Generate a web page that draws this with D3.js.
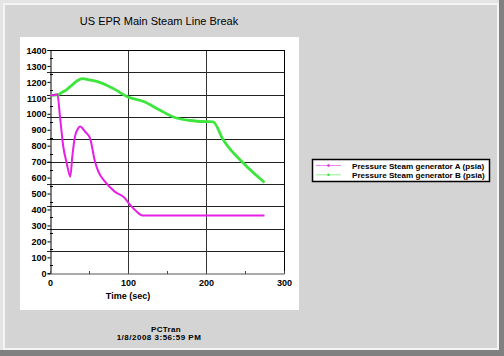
<!DOCTYPE html>
<html><head><meta charset="utf-8">
<script src="https://cdn.jsdelivr.net/npm/d3@7"></script>
<style>
html,body{margin:0;padding:0;background:#d4d4d4;overflow:hidden}
svg{display:block}
text{font-family:Arial,"Liberation Sans",sans-serif;fill:#000}
</style></head>
<body>
<svg id="c" width="504" height="356"></svg>
<script>
const title = "US EPR Main Steam Line Break";
const xLabel = "Time (sec)";
const footer = ["PCTran", "1/8/2008 3:56:59 PM"];
const seriesNames = ["Pressure Steam generator A (psia)", "Pressure Steam generator B (psia)"];
const seriesColors = ["#e61ee6", "#3ce63c"];

const timeA = [0, 5, 9.5, 12.8, 17, 21.4, 26, 28.6, 32, 36.3, 38.5, 44.9, 51.3, 57.7, 62, 70.5, 83, 96, 100, 109, 119, 275];
const pressA = [1115, 1118, 1122, 983, 795, 692, 606, 732, 857, 910, 920, 889, 847, 700, 638, 575, 512, 471, 445, 397, 362, 362];

const timeB = [0, 10, 15, 20, 25, 30, 35, 42, 50, 60, 80, 100, 120, 140, 160, 180, 200, 209, 222, 250, 275];
const pressB = [1115, 1118, 1134, 1146, 1167, 1188, 1207, 1220, 1213, 1203, 1161, 1105, 1077, 1025, 977, 958, 951, 950, 837, 680, 569];

const yTicks = [0,100,200,300,400,500,600,700,800,900,1000,1100,1200,1300,1400];
const yMinorTicks = [50,150,250,350,450,550,650,750,850,950,1050,1150,1250,1350];
const xTicks = [0,100,200,300];
const xMinorTicks = [50,150,250];
const hGrid = [140,280,420,560,700,840,980,1120,1260];
const vGrid = [100,200];

const svg = d3.select("#c");
const W = 504, H = 356;

// window frame
svg.append("rect").attr("x",0).attr("y",0).attr("width",W).attr("height",H).attr("fill","#808080");
svg.append("rect").attr("x",0).attr("y",0).attr("width",W-5).attr("height",H-6).attr("fill","#e4e4e4");
svg.append("rect").attr("x",3).attr("y",3).attr("width",W-8).attr("height",H-9).attr("fill","#f4f4f4");
svg.append("rect").attr("x",5).attr("y",5).attr("width",W-12).attr("height",H-13).attr("fill","#d4d4d4");

// white chart panel
svg.append("rect").attr("x",20).attr("y",37).attr("width",279).attr("height",273).attr("fill","#ffffff");

svg.append("text").attr("x",159).attr("y",25).attr("text-anchor","middle")
  .style("font-size","11px").text(title);

const x = d3.scaleLinear().domain([0,300]).range([50,284]);
const y = d3.scaleLinear().domain([0,1400]).range([273.3,50]);

// grid
svg.append("g").selectAll("line").data(hGrid).join("line")
  .attr("x1",47).attr("x2",x(300)).attr("y1",d=>Math.round(y(d))+0.5).attr("y2",d=>Math.round(y(d))+0.5)
  .attr("stroke","#222").attr("stroke-width",1);
svg.append("g").selectAll("line").data(vGrid).join("line")
  .attr("y1",y(1400)).attr("y2",y(0)).attr("x1",d=>Math.round(x(d))+0.5).attr("x2",d=>Math.round(x(d))+0.5)
  .attr("stroke","#333").attr("stroke-width",1);
// top and right border
svg.append("line").attr("x1",x(0)).attr("x2",x(300)+0.5).attr("y1",Math.round(y(1400))+0.5).attr("y2",Math.round(y(1400))+0.5).attr("stroke","#000");
svg.append("line").attr("x1",Math.round(x(300))+0.5).attr("x2",Math.round(x(300))+0.5).attr("y1",y(1400)).attr("y2",y(0)).attr("stroke","#000");

// y axis
const yAxis = d3.axisLeft(y).tickValues(yTicks).tickSize(3).tickPadding(1).tickFormat(d3.format("d"));
const gy = svg.append("g").attr("transform","translate(50.5,0)").call(yAxis);
gy.select(".domain").attr("stroke","#000");
gy.selectAll("text").style("font-size","9px").style("font-weight","bold").attr("dy","0.35em");
svg.append("g").selectAll("line").data(yMinorTicks).join("line")
  .attr("x1",50).attr("x2",53).attr("y1",d=>Math.round(y(d))+0.5).attr("y2",d=>Math.round(y(d))+0.5).attr("stroke","#000");

// x axis
const xAxis = d3.axisBottom(x).tickValues(xTicks).tickSize(0).tickPadding(6).tickFormat(d3.format("d"));
const gx = svg.append("g").attr("transform","translate(0,"+(Math.round(y(0))+0.5)+")").call(xAxis);
gx.select(".domain").attr("stroke","#555");
gx.selectAll("text").style("font-size","9px").style("font-weight","bold");
svg.append("g").selectAll("line").data(xMinorTicks.concat(xTicks)).join("line")
  .attr("y1",Math.round(y(0))-2).attr("y2",Math.round(y(0))+1).attr("x1",d=>Math.round(x(d))+0.5).attr("x2",d=>Math.round(x(d))+0.5).attr("stroke","#444");

svg.append("text").attr("x",x(100)).attr("y",299).attr("text-anchor","middle")
  .style("font-size","9px").style("font-weight","bold").text(xLabel);

// series
const dataA = timeA.map((t,i)=>[t,pressA[i]]);
const dataB = timeB.map((t,i)=>[t,pressB[i]]);
const line = d3.line().x(d=>x(d[0])).y(d=>y(d[1])).curve(d3.curveMonotoneX);

svg.append("path").datum(dataB).attr("d",line).attr("fill","none")
  .attr("stroke",seriesColors[1]).attr("stroke-width",2.8).attr("stroke-linejoin","round");
svg.append("path").datum(dataA).attr("d",line).attr("fill","none")
  .attr("stroke",seriesColors[0]).attr("stroke-width",2).attr("stroke-linejoin","round");

// footer
svg.append("text").attr("x",166).attr("y",332).attr("text-anchor","middle")
  .style("font-size","8px").style("font-weight","bold").style("letter-spacing","0.3px").text(footer[0]);
svg.append("text").attr("x",159).attr("y",340).attr("text-anchor","middle")
  .style("font-size","8px").style("font-weight","bold").style("letter-spacing","0.5px").text(footer[1]);

// legend
const lg = svg.append("g");
lg.append("rect").attr("x",312.5).attr("y",159.5).attr("width",177).attr("height",22)
  .attr("fill","#fff").attr("stroke","#000").attr("stroke-width",1.5);
seriesNames.forEach((n,i)=>{
  const yy = 165.5 + i*9.3;
  lg.append("line").attr("x1",316).attr("x2",341).attr("y1",yy).attr("y2",yy)
    .attr("stroke",seriesColors[i]).attr("stroke-opacity",0.55).attr("stroke-width",1);
  lg.append("circle").attr("cx",328.5).attr("cy",yy).attr("r",1.3).attr("fill",seriesColors[i]);
  lg.append("text").attr("x",352).attr("y",yy+3).style("font-size","8.1px").style("font-weight","bold").text(n);
});
</script>
</body></html>
